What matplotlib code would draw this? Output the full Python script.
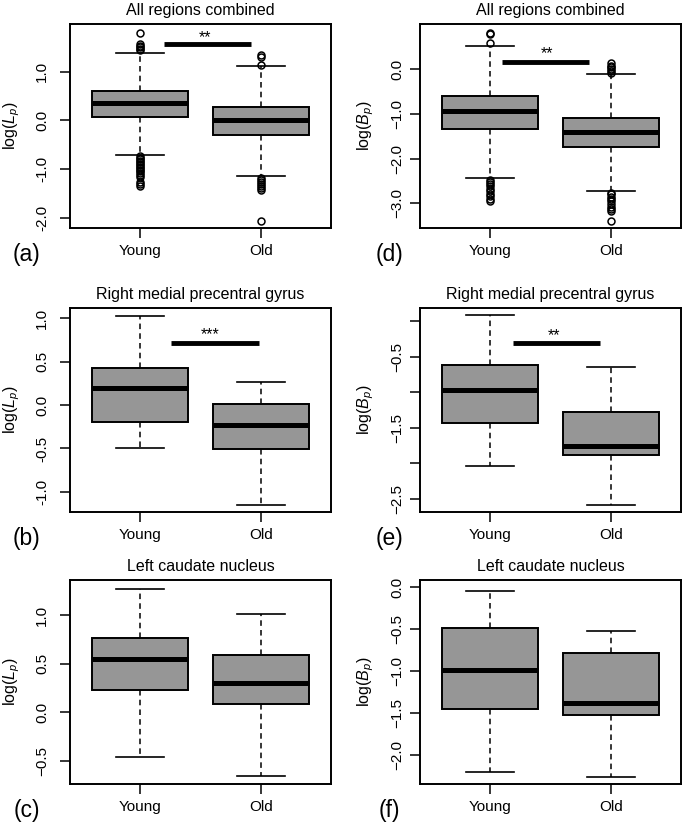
import matplotlib
matplotlib.use('Agg')
import matplotlib.pyplot as plt

# Fonts: Helvetica-like look of the R original
plt.rcParams['font.family'] = ['Liberation Sans', 'DejaVu Sans']
plt.rcParams['mathtext.fontset'] = 'custom'
plt.rcParams['mathtext.rm'] = 'Liberation Sans'
plt.rcParams['mathtext.it'] = 'Liberation Sans:italic'
plt.rcParams['lines.scale_dashes'] = False

groups = ['Young', 'Old']

# five-number summaries: [lower whisker, Q1, median, Q3, upper whisker]
# (a) log(Lp), all regions combined
a_young = [-0.72, 0.075, 0.355, 0.61, 1.39]
a_old = [-1.15, -0.30, 0.00, 0.27, 1.11]
a_young_out = [1.80, 1.57, 1.53, 1.50, 1.47, 1.44,
               -0.74, -0.77, -0.80, -0.83, -0.86, -0.89, -0.92, -0.95, -0.98,
               -1.01, -1.04, -1.08, -1.12, -1.16, -1.26, -1.30, -1.34]
a_old_out = [1.34, 1.30, 1.13, -1.18, -1.22, -1.26, -1.30, -1.34, -1.38, -1.42, -2.06]

# (d) log(Bp), all regions combined
d_young = [-2.44, -1.33, -0.93, -0.60, 0.52]
d_old = [-2.73, -1.75, -1.41, -1.09, -0.10]
d_young_out = [0.82, 0.79, 0.58,
               -2.47, -2.52, -2.57, -2.62, -2.67, -2.72, -2.78, -2.84, -2.90, -2.94]
d_old_out = [0.14, 0.08, 0.04, 0.00, -0.04, -0.08,
             -2.76, -2.80, -2.85, -2.90, -2.95, -3.02, -3.08, -3.12, -3.16, -3.39]

# (b) log(Lp), right medial precentral gyrus
b_young = [-0.50, -0.196, 0.19, 0.427, 1.02]
b_old = [-1.146, -0.508, -0.227, 0.012, 0.27]

# (e) log(Bp), right medial precentral gyrus
e_young = [-2.03, -1.435, -0.965, -0.62, 0.075]
e_old = [-2.575, -1.88, -1.755, -1.28, -0.645]

# (c) log(Lp), left caudate nucleus
c_young = [-0.462, 0.233, 0.548, 0.764, 1.267]
c_old = [-0.658, 0.092, 0.308, 0.592, 1.014]

# (f) log(Bp), left caudate nucleus
f_young = [-2.197, -1.449, -0.984, -0.484, -0.04]
f_old = [-2.256, -1.516, -1.382, -0.787, -0.516]

# y ticks and labels per panel
a_ticks = [1.0, 0.0, -1.0, -2.0]
a_labels = ['1.0', '0.0', '-1.0', '-2.0']
d_ticks = [0.0, -1.0, -2.0, -3.0]
d_labels = ['0.0', '\u22121.0', '\u22122.0', '\u22123.0']
b_ticks = [1.0, 0.5, 0.0, -0.5, -1.0]
b_labels = ['1.0', '0.5', '0.0', '-0.5', '-1.0']
e_ticks = [0.0, -0.5, -1.0, -1.5, -2.0, -2.5]
e_labels = ['', '\u22120.5', '', '\u22121.5', '', '\u22122.5']
c_ticks = [1.0, 0.5, 0.0, -0.5]
c_labels = ['1.0', '0.5', '0.0', '\u22120.5']
f_ticks = [0.0, -0.5, -1.0, -1.5, -2.0]
f_labels = ['0.0', '\u22120.5', '\u22121.0', '\u22121.5', '\u22122.0']

# significance bars: [x start, x end], y, stars, star position (x, y)
a_sig = ([1.20, 1.92], 1.57, '**', 1.54, 1.80)
d_sig = ([1.10, 1.82], 0.15, '**', 1.47, 0.44)
b_sig = ([1.26, 1.98], 0.71, '***', 1.58, 0.86)
e_sig = ([1.19, 1.91], -0.315, '**', 1.53, -0.14)

BOX_GREY = '#969696'


def make_stats(five, fliers):
    return dict(whislo=five[0], q1=five[1], med=five[2], q3=five[3], whishi=five[4],
                fliers=fliers)


def draw_panel(ax, young, old, young_out, old_out, title, ylabel, ylim, ticks, labels,
               sig, tag, left_col):
    stats = [make_stats(young, young_out), make_stats(old, old_out)]
    ax.bxp(stats, positions=[1, 2], widths=0.8, capwidths=0.4, patch_artist=True,
           boxprops=dict(facecolor=BOX_GREY, edgecolor='black', linewidth=1.4),
           medianprops=dict(color='black', linewidth=3.6, solid_capstyle='butt'),
           whiskerprops=dict(color='black', linewidth=1.1, linestyle=(0, (4, 3))),
           capprops=dict(color='black', linewidth=1.2),
           flierprops=dict(marker='o', markerfacecolor='none', markeredgecolor='black',
                           markersize=5, markeredgewidth=1.1))
    if sig is not None:
        xs, y, stars, sx, sy = sig
        ax.plot(xs, [y, y], color='black', linewidth=3.5, solid_capstyle='butt')
        ax.annotate(stars, xy=(sx, sy), xytext=(0, -6.5), textcoords='offset points',
                    ha='center', va='baseline', fontsize=11.5)
    ax.set_xlim(0.42, 2.58)
    ax.set_ylim(*ylim)
    ax.set_xticks([1, 2])
    ax.set_xticklabels(groups)
    ax.set_yticks(ticks)
    ax.set_yticklabels(labels, rotation=90, va='center')
    ypad = 8 if left_col else 4
    ax.tick_params(axis='y', direction='out', length=7, width=1.1, labelsize=11, pad=ypad)
    ax.tick_params(axis='x', direction='out', length=7, width=1.1, labelsize=11, pad=4.5)
    for s in ax.spines.values():
        s.set_linewidth(1.4)
    ax.set_title(title, fontsize=11.5, pad=6.5)
    ax.set_ylabel(ylabel, fontsize=11.5)
    if left_col:
        ax.yaxis.set_label_coords(-0.185, 0.5)
    else:
        ax.yaxis.set_label_coords(-0.17, 0.5)
    # panel tag like "(a)" below the axis, in figure pixels
    fig = ax.figure
    bbox = ax.get_position()
    tag_x = bbox.x0 - (43 if left_col else 31) / 683
    tag_y = bbox.y0 - 27 / 824
    fig.text(tag_x, tag_y, tag, fontsize=16.5, ha='center', va='center')


fig = plt.figure(figsize=(6.83, 8.24), dpi=100)

W, H = 683, 824
col_x = [70, 420]
row_top = [24, 308, 580]
ax_w, ax_h = 261, 204


def panel_axes(col, row):
    x0 = col_x[col] / W
    y0 = (H - row_top[row] - ax_h) / H
    return fig.add_axes([x0, y0, ax_w / W, ax_h / H])


lp_label = 'log($L_p$)'
bp_label = 'log($B_p$)'

draw_panel(panel_axes(0, 0), a_young, a_old, a_young_out, a_old_out,
           'All regions combined', lp_label, (-2.21, 1.98), a_ticks, a_labels, a_sig, '(a)', True)
draw_panel(panel_axes(1, 0), d_young, d_old, d_young_out, d_old_out,
           'All regions combined', bp_label, (-3.55, 1.01), d_ticks, d_labels, d_sig, '(d)', False)
draw_panel(panel_axes(0, 1), b_young, b_old, [], [],
           'Right medial precentral gyrus', lp_label, (-1.23, 1.115), b_ticks, b_labels, b_sig,
           '(b)', True)
draw_panel(panel_axes(1, 1), e_young, e_old, [], [],
           'Right medial precentral gyrus', bp_label, (-2.68, 0.18), e_ticks, e_labels, e_sig,
           '(e)', False)
draw_panel(panel_axes(0, 2), c_young, c_old, [], [],
           'Left caudate nucleus', lp_label, (-0.736, 1.363), c_ticks, c_labels, None, '(c)', True)
draw_panel(panel_axes(1, 2), f_young, f_old, [], [],
           'Left caudate nucleus', bp_label, (-2.34, 0.087), f_ticks, f_labels, None, '(f)', False)

plt.savefig('out.png', dpi=100)
plt.close()
